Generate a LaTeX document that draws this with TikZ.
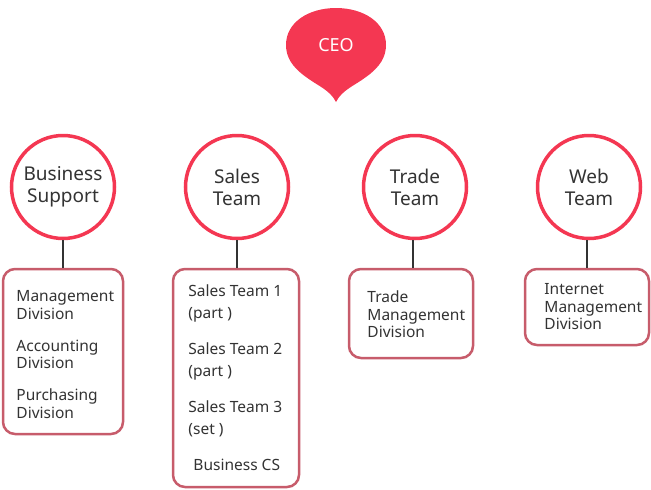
\documentclass[tikz,border=0pt]{standalone}
\usepackage{fontspec}
\setmainfont{Noto Sans}
\definecolor{ceored}{HTML}{F43752}
\definecolor{boxred}{HTML}{C75C6B}
\definecolor{txtgray}{HTML}{333333}
\usetikzlibrary{positioning}
\tikzset{
	team/.style={circle,draw=ceored,line width=3.5pt,fill=white,minimum size=103pt,inner sep=0pt,
		align=center,text=txtgray,font=\fontsize{19}{22}\selectfont},
	unitbox/.style={draw=boxred,line width=2.5pt,rounded corners=12pt,fill=white,inner sep=0pt},
	unittext/.style={inner sep=0pt,align=left,text=txtgray,font=\fontsize{15.5}{17.5}\selectfont},
	link/.style={line width=2pt,txtgray}
}
\begin{document}
\begin{tikzpicture}[x=1pt,y=-1pt]
			\useasboundingbox (0,0) rectangle (651,490);
			% CEO balloon
			\fill[ceored] (336,102) .. controls (330,90) and (318,86) .. (306,77)
				.. controls (292,67) and (286,57) .. (286,45)
				.. controls (286,22) and (309,8) .. (336,8)
				.. controls (363,8) and (386,22) .. (386,45)
				.. controls (386,57) and (380,67) .. (366,77)
				.. controls (354,86) and (342,90) .. (336,102) -- cycle;
			\node[text=white,font=\fontsize{18}{20}\selectfont] (ceo) at (336,45) {CEO};
			% teams
			\node[team] (biz) at (63,187) {Business\\Support};
			\node[team] (sales) at (237,187) {Sales\\Team};
			\node[team] (trade) at (415,187) {Trade\\Team};
			\node[team] (web) at (589,187) {Web\\Team};
			% units
			\node[unitbox,minimum width=120pt,minimum height=165pt] (bizbox) at (63,351.5) {};
			\node[unitbox,minimum width=126pt,minimum height=218pt] (salesbox) at (236,378) {};
			\node[unitbox,minimum width=124pt,minimum height=89pt] (tradebox) at (411,313.5) {};
			\node[unitbox,minimum width=124pt,minimum height=76pt] (webbox) at (587,307) {};
			\node[unittext,right=14.5pt of bizbox.west,yshift=-3pt] (biztext)
				{Management\\Division\\[14.5pt]Accounting\\Division\\[14.5pt]Purchasing\\Division};
			\node[unittext,right=16.5pt of salesbox.west,font=\fontsize{15.5}{21.5}\selectfont] (salestext)
				{Sales Team 1\\(part )\\[15pt]Sales Team 2\\(part )\\[15pt]Sales Team 3\\(set )\\[15pt]\hspace*{5pt}Business CS};
			\node[unittext,right=19.5pt of tradebox.west,yshift=-1pt] (tradetext) {Trade\\Management\\Division};
			\node[unittext,right=20.5pt of webbox.west] (webtext) {Internet\\Management\\Division};
			% links
			\draw[link] (biz.south) -- (biz.south |- bizbox.north);
			\draw[link] (sales.south) -- (sales.south |- salesbox.north);
			\draw[link] (trade.south) ++(-2,0) coordinate (tradetop) -- (tradetop |- tradebox.north);
			\draw[link] (web.south) ++(-2,0) coordinate (webtop) -- (webtop |- webbox.north);
		\end{tikzpicture}
\end{document}
